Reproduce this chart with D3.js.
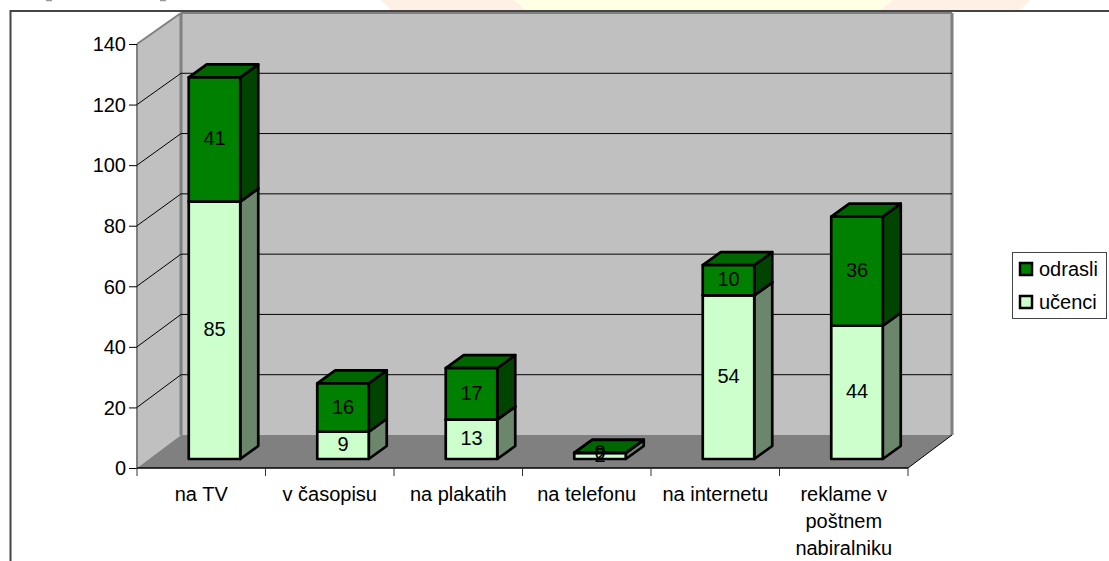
<!DOCTYPE html>
<html><head><meta charset="utf-8">
<script src="https://cdn.jsdelivr.net/npm/d3@7"></script>
<style>html,body{margin:0;padding:0;background:#fff}svg{display:block}text{font-family:"Liberation Sans",Arial,sans-serif;fill:#000}</style>
</head><body><svg id="c" width="1109" height="561"></svg>
<script>
const categories=["na TV","v časopisu","na plakatih","na telefonu","na internetu","reklame v|poštnem|nabiralniku"];
const seriesNames=["učenci","odrasli"];
const ucenci=[85,9,13,2,54,44];
const odrasli=[41,16,17,0,10,36];
const yTicks=[0,20,40,60,80,100,120,140];
const frontFill={"učenci":"#ccffcc","odrasli":"#008000"};
const topFill={"učenci":"#a3cca3","odrasli":"#006600"};
const sideFill={"učenci":"#6b866b","odrasli":"#004400"};

const svg=d3.select("#c");
const depthX=44;
const x=d3.scaleBand().domain(categories).range([137,908]);
const y=d3.scaleLinear().domain([0,140]).range([468,44]);
const yBack=d3.scaleLinear().domain([0,140]).range([435,13]);
const poly=(s,pts,fill,stroke,sw)=>s.append("polygon").attr("points",pts.map(p=>p.join(",")).join(" ")).attr("fill",fill).attr("stroke",stroke||"none").attr("stroke-width",sw||0).attr("stroke-linejoin","round");

// faint page background behind the chart
const bg=svg.append("g");
poly(bg,[[381,0],[1030,0],[1020,10],[391,10]],"#fff0e6");
poly(bg,[[513,0],[893,0],[881,10],[526,10]],"#ffffe6");
[49,163].forEach(v=>bg.append("path").attr("d",`M${v-3} 0.5H${v+3}`).attr("stroke","#999").attr("stroke-width",1.5));

// chart frame
svg.append("path").attr("d","M10.5 561V11H1109").attr("fill","#fff").attr("stroke","#444").attr("stroke-width",2);

// walls
const x0=x.range()[0],x1=x.range()[1],y0=y(0),yt=y(140),by0=yBack(0),byt=yBack(140);
poly(svg,[[x0+depthX,byt],[x1+depthX,byt],[x1+depthX,by0],[x0+depthX,by0]],"#c0c0c0");
poly(svg,[[x0,yt],[x0+depthX,byt],[x0+depthX,by0],[x0,y0]],"#c0c0c0");
poly(svg,[[x0,y0],[x1,y0],[x1+depthX,by0],[x0+depthX,by0]],"#808080");
// wall edges
const edge=(a,b,c,w)=>svg.append("line").attr("x1",a[0]).attr("y1",a[1]).attr("x2",b[0]).attr("y2",b[1]).attr("stroke",c).attr("stroke-width",w);
edge([x0,y0],[x0,yt],"#808080",2);
edge([x0,yt],[x0+depthX,byt],"#808080",2);
edge([x0+depthX,byt],[x0+depthX,by0],"#808080",3);
edge([x0+depthX,byt],[x1+depthX,byt],"#808080",2);
edge([x1+depthX,byt],[x1+depthX,by0],"#808080",3);

// gridlines
yTicks.slice(1,-1).forEach(t=>{
  edge([x0,y(t)],[x0+depthX,yBack(t)],"#000",1);
  edge([x0+depthX,yBack(t)],[x1+depthX,yBack(t)],"#000",1);
});
edge([x0,y0],[x1,y0],"#000",1.5);
edge([x1,y0],[x1+depthX,by0],"#000",1);

// axes
const yAxis=d3.axisLeft(y).tickValues(yTicks).tickSize(8).tickPadding(3);
const ya=svg.append("g").attr("transform",`translate(${x0},0)`).call(yAxis);
ya.select(".domain").remove();
ya.selectAll("line").attr("stroke","#000");
ya.selectAll("text").attr("font-size",20).attr("font-family",'"Liberation Sans",Arial,sans-serif').attr("dy","0.34em");

const tickPos=categories.map(c=>x(c)).concat([x1]);
svg.selectAll("line.xt").data(tickPos).join("line").attr("class","xt").attr("x1",d=>d).attr("x2",d=>d).attr("y1",y0).attr("y2",y0+8).attr("stroke","#333").attr("stroke-width",1);
categories.forEach(c=>{
  const lines=c.split("|");
  const t=svg.append("text").attr("text-anchor","middle").attr("font-size",20);
  lines.forEach((l,i)=>t.append("tspan").attr("x",x(c)+x.bandwidth()/2).attr("y",501+i*27).text(l));
});

// bars
const barW=51.5,shiftX=13.25,shiftY=9,barDX=18,barDY=13;
const labels=[];
categories.forEach((c,i)=>{
  const left=x(c)+x.bandwidth()/2+shiftX-barW/2,right=left+barW;
  let acc=0;
  [[seriesNames[0],ucenci[i]],[seriesNames[1],odrasli[i]]].forEach(([name,v])=>{
    const b=y(acc)-shiftY,t=y(acc+v)-shiftY;
    const g=svg.append("g");
    poly(g,[[right,b],[right+barDX,b-barDY],[right+barDX,t-barDY],[right,t]],sideFill[name],"#000",2.7);
    poly(g,[[left,t],[left+barDX,t-barDY],[right+barDX,t-barDY],[right,t]],topFill[name],"#000",2.7);
    poly(g,[[left,t],[right,t],[right,b],[left,b]],frontFill[name],"#000",2.7);
    labels.push({x:(left+right)/2,y:(t+b)/2,v});
    acc+=v;
  });
});
svg.selectAll("text.val").data(labels).join("text").attr("class","val").attr("x",d=>d.x).attr("y",d=>d.y+6).attr("text-anchor","middle").attr("font-size",20).text(d=>d.v);

// legend
const lg=svg.append("g");
lg.append("rect").attr("x",1012.5).attr("y",252.5).attr("width",94).attr("height",66).attr("fill","#fff").attr("stroke","#444").attr("stroke-width",1);
[seriesNames[1],seriesNames[0]].forEach((n,i)=>{
  const yy=[269,302][i];
  lg.append("rect").attr("x",1020).attr("y",yy-6).attr("width",12).attr("height",12).attr("fill",frontFill[n]).attr("stroke","#000").attr("stroke-width",2.5);
  lg.append("text").attr("x",1039).attr("y",yy+7).attr("font-size",20).text(n);
});
</script></body></html>
